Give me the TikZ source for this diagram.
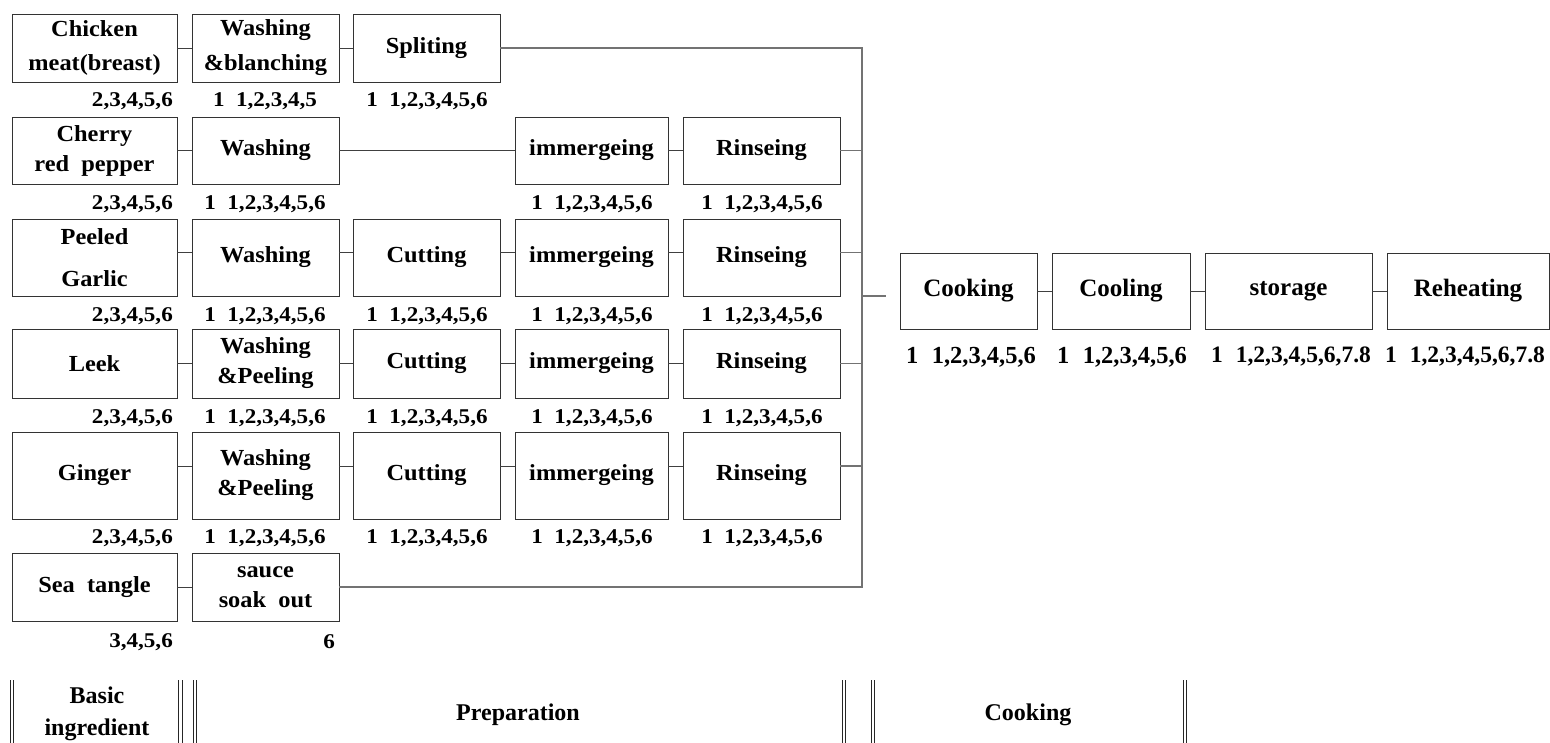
\documentclass[tikz,border=0pt]{standalone}
\usepackage{fontspec}
\setmainfont{Liberation Serif}
\newfontfamily\widefont[FakeStretch=1.06]{Liberation Serif}
\newfontfamily\labfont[FakeStretch=1.1]{Liberation Serif}
\begin{document}
\begin{tikzpicture}[x=1pt,y=-1pt,
 box/.style={draw=black!80, line width=0.9pt, inner sep=0pt, align=center, font=\widefont\bfseries\fontsize{23}{30}\selectfont},
 rbox/.style={box, font=\bfseries\fontsize{25}{30}\selectfont},
 lab/.style={inner sep=0pt, font=\labfont\bfseries\fontsize{21}{24}\selectfont},
 rlab/.style={inner sep=0pt, font=\bfseries\fontsize{24.5}{28}\selectfont},
 conn/.style={draw=black!75, line width=0.8pt},
 busline/.style={draw=black!55, line width=1.1pt},
 band/.style={inner sep=0pt, align=center, font=\bfseries\fontsize{24}{32}\selectfont},
 dl/.style={draw=black!85, line width=0.9pt}]
\useasboundingbox (0,0) rectangle (1550,743);
\newcommand{\ii}{1\hspace{0.55em}}
% ---- Row 1
\node[box, minimum width=165, minimum height=68] (c11) at (94.5,48) {Chicken\\[4pt]meat(breast)};
\node[box, minimum width=147, minimum height=68] (c12) at (265.5,48) {Washing\\[5pt]\&blanching};
\node[box, minimum width=147, minimum height=68] (c13) at (426.5,48) {Spliting};
% ---- Row 2
\node[box, minimum width=165, minimum height=67] (c21) at (94.5,150.5) {Cherry\\red\ \ pepper};
\node[box, minimum width=147, minimum height=67] (c22) at (265.5,150.5) {Washing};
\node[box, minimum width=153, minimum height=67] (c24) at (591.5,150.5) {immergeing};
\node[box, minimum width=157, minimum height=67] (c25) at (761.5,150.5) {Rinseing};
% ---- Row 3
\node[box, minimum width=165, minimum height=77] (c31) at (94.5,257.5) {Peeled\\[12pt]Garlic};
\node[box, minimum width=147, minimum height=77] (c32) at (265.5,257.5) {Washing};
\node[box, minimum width=147, minimum height=77] (c33) at (426.5,257.5) {Cutting};
\node[box, minimum width=153, minimum height=77] (c34) at (591.5,257.5) {immergeing};
\node[box, minimum width=157, minimum height=77] (c35) at (761.5,257.5) {Rinseing};
% ---- Row 4
\node[box, minimum width=165, minimum height=69] (c41) at (94.5,363.5) {Leek};
\node[box, minimum width=147, minimum height=69] (c42) at (265.5,363.5) {Washing\\\&Peeling};
\node[box, minimum width=147, minimum height=69] (c43) at (426.5,363.5) {Cutting};
\node[box, minimum width=153, minimum height=69] (c44) at (591.5,363.5) {immergeing};
\node[box, minimum width=157, minimum height=69] (c45) at (761.5,363.5) {Rinseing};
% ---- Row 5
\node[box, minimum width=165, minimum height=87] (c51) at (94.5,475.5) {Ginger};
\node[box, minimum width=147, minimum height=87] (c52) at (265.5,475.5) {Washing\\\&Peeling};
\node[box, minimum width=147, minimum height=87] (c53) at (426.5,475.5) {Cutting};
\node[box, minimum width=153, minimum height=87] (c54) at (591.5,475.5) {immergeing};
\node[box, minimum width=157, minimum height=87] (c55) at (761.5,475.5) {Rinseing};
% ---- Row 6
\node[box, minimum width=165, minimum height=68] (c61) at (94.5,587) {Sea\ \ tangle};
\node[box, minimum width=147, minimum height=68] (c62) at (265.5,587) {sauce\\soak\ \ out};
% ---- Cooking boxes
\node[rbox, minimum width=137, minimum height=76] (k1) at (968.5,291) {Cooking};
\node[rbox, minimum width=138, minimum height=76] (k2) at (1121,291) {Cooling};
\node[rbox, minimum width=167, minimum height=76] (k3) at (1288.5,291) {storage};
\node[rbox, minimum width=162, minimum height=76] (k4) at (1468,291) {Reheating};
% ---- connectors
\draw[conn] (c11) -- (c12); \draw[conn] (c12) -- (c13);
\draw[conn] (c21) -- (c22); \draw[conn] (c22) -- (c24); \draw[conn] (c24) -- (c25);
\foreach \r in {3}{
 \draw[conn] ([yshift=5pt]c\r1.east) -- ([yshift=5pt]c\r2.west);
 \draw[conn] ([yshift=5pt]c\r2.east) -- ([yshift=5pt]c\r3.west);
 \draw[conn] ([yshift=5pt]c\r3.east) -- ([yshift=5pt]c\r4.west);
 \draw[conn] ([yshift=5pt]c\r4.east) -- ([yshift=5pt]c\r5.west);}
\draw[conn] (c41) -- (c42); \draw[conn] (c42) -- (c43); \draw[conn] (c43) -- (c44); \draw[conn] (c44) -- (c45);
\foreach \r in {5}{
 \draw[conn] ([yshift=9.5pt]c\r1.east) -- ([yshift=9.5pt]c\r2.west);
 \draw[conn] ([yshift=9.5pt]c\r2.east) -- ([yshift=9.5pt]c\r3.west);
 \draw[conn] ([yshift=9.5pt]c\r3.east) -- ([yshift=9.5pt]c\r4.west);
 \draw[conn] ([yshift=9.5pt]c\r4.east) -- ([yshift=9.5pt]c\r5.west);}
\draw[conn] (c61) -- (c62);
\draw[conn] (k1) -- (k2); \draw[conn] (k2) -- (k3); \draw[conn] (k3) -- (k4);
% bus
\coordinate (bt) at (862,47);
\coordinate (bb) at (862,587);
\coordinate (stub) at (886,296);
\draw[busline] (c13.east) -- (c13.east -| bt) -- (bb) -- (c62.east);
\draw[busline] (c25.east) -- (c25.east -| bt);
\draw[busline] ([yshift=5pt]c35.east) -- ([yshift=5pt]c35.east -| bt);
\draw[busline] (c45.east) -- (c45.east -| bt);
\draw[busline] ([yshift=9.5pt]c55.east) -- ([yshift=9.5pt]c55.east -| bt);
\draw[busline] (stub -| bt) -- (stub);
% ---- labels
\node[lab, anchor=east] (l11) at (173,101) {2,3,4,5,6};
\node[lab] (l12) at (265,101) {\ii1,2,3,4,5};
\node[lab] (l13) at (427,101) {\ii1,2,3,4,5,6};
\node[lab, anchor=east] (l21) at (173,204) {2,3,4,5,6};
\node[lab] (l22) at (265,204) {\ii1,2,3,4,5,6};
\node[lab] (l24) at (592,204) {\ii1,2,3,4,5,6};
\node[lab] (l25) at (762,204) {\ii1,2,3,4,5,6};
\node[lab, anchor=east] (l31) at (173,316) {2,3,4,5,6};
\node[lab] (l32) at (265,316) {\ii1,2,3,4,5,6};
\node[lab] (l33) at (427,316) {\ii1,2,3,4,5,6};
\node[lab] (l34) at (592,316) {\ii1,2,3,4,5,6};
\node[lab] (l35) at (762,316) {\ii1,2,3,4,5,6};
\node[lab, anchor=east] (l41) at (173,418) {2,3,4,5,6};
\node[lab] (l42) at (265,418) {\ii1,2,3,4,5,6};
\node[lab] (l43) at (427,418) {\ii1,2,3,4,5,6};
\node[lab] (l44) at (592,418) {\ii1,2,3,4,5,6};
\node[lab] (l45) at (762,418) {\ii1,2,3,4,5,6};
\node[lab, anchor=east] (l51) at (173,538) {2,3,4,5,6};
\node[lab] (l52) at (265,538) {\ii1,2,3,4,5,6};
\node[lab] (l53) at (427,538) {\ii1,2,3,4,5,6};
\node[lab] (l54) at (592,538) {\ii1,2,3,4,5,6};
\node[lab] (l55) at (762,538) {\ii1,2,3,4,5,6};
\node[lab, anchor=east] (l61) at (173,642) {3,4,5,6};
\node[lab, anchor=east] (l62) at (335,642) {6};
\node[rlab] (m1) at (971,357) {\ii1,2,3,4,5,6};
\node[rlab] (m2) at (1122,357) {\ii1,2,3,4,5,6};
\node[rlab, font=\bfseries\fontsize{23.5}{28}\selectfont] (m3) at (1291,357) {\ii1,2,3,4,5,6,7.8};
\node[rlab, font=\bfseries\fontsize{23.5}{28}\selectfont] (m4) at (1465,357) {\ii1,2,3,4,5,6,7.8};
% ---- bottom band
\foreach \xx in {10.5,13.5,178.5,182,193,196,842,845.5,871.5,874.5,1183,1186}
  \draw[dl] (\xx,680) -- (\xx,743);
\node[band] (b1) at (97,714) {Basic\\ingredient};
\node[band] (b2) at (518,715) {Preparation};
\node[band] (b3) at (1028,715) {Cooking};
\end{tikzpicture}
\end{document}
